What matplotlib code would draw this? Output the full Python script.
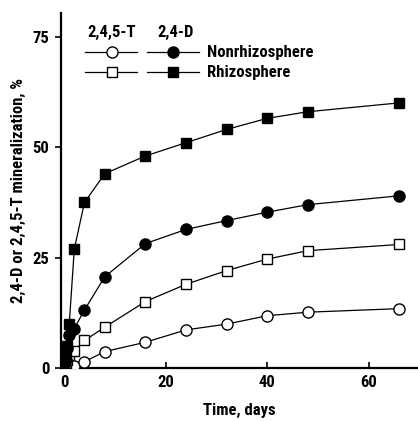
import matplotlib
matplotlib.use("Agg")
import matplotlib.pyplot as plt
from matplotlib.lines import Line2D

days = [0, 0.3, 0.6, 1, 2, 4, 8, 16, 24, 32, 40, 48, 66]
d24_rhizo = [0, 2.5, 5, 10, 27, 37.5, 44, 48, 51, 54, 56.5, 58, 60]
d24_nonrhizo = [0, 2, 4.5, 7.5, 9, 13.2, 20.7, 28.2, 31.4, 33.4, 35.3, 37, 39]
t245_rhizo = [0, 1, 2, 3, 4, 6.3, 9.3, 15.1, 19, 22.1, 24.7, 26.6, 28]
t245_nonrhizo = [0.2, 0.3, 0.4, 0.5, 0.6, 1.5, 3.8, 5.9, 8.7, 10, 11.9, 12.7, 13.5]

xticks = [0, 20, 40, 60]
yticks = [0, 25, 50, 75]

FONT = ["Roboto Condensed", "DejaVu Sans"]
plt.rcParams['font.family'] = FONT
plt.rcParams['font.weight'] = 'bold'
FS = 12

fig = plt.figure(figsize=(4.18, 4.21), dpi=100)
ax = fig.add_axes([0.145, 0.125, 0.855, 0.844])

lw = 0.9
ms_c = 8
ms_s = 7
ax.plot(days, t245_nonrhizo, '-o', color='black', lw=lw, ms=ms_c, mfc='white', mec='black', mew=1, zorder=3)
ax.plot(days, t245_rhizo, '-s', color='black', lw=lw, ms=ms_s, mfc='white', mec='black', mew=1, zorder=3)
ax.plot(days, d24_nonrhizo, '-o', color='black', lw=lw, ms=ms_c, mfc='black', mec='black', mew=1, zorder=4)
ax.plot(days, d24_rhizo, '-s', color='black', lw=lw, ms=ms_s, mfc='black', mec='black', mew=1, zorder=4)

ax.set_xlim(-0.7, 69.7)
ax.set_ylim(0, 80.3)
ax.set_xticks(xticks)
ax.set_yticks(yticks)
for s in ['top', 'right']:
    ax.spines[s].set_visible(False)
for s in ['left', 'bottom']:
    ax.spines[s].set_linewidth(1.6)
ax.tick_params(axis='y', direction='out', length=4, width=1.2, labelsize=FS, pad=4)
ax.tick_params(axis='x', direction='in', length=4, width=1.2, labelsize=FS, pad=5)
ax.set_xlabel('Time, days', fontsize=FS, fontweight='bold', labelpad=9)
ax.set_ylabel('2,4-D or 2,4,5-T mineralization, %', fontsize=FS, fontweight='bold', labelpad=5)

def axf(px, py):
    x0, y0 = 60.7, 368.5
    w, h = 357.3, 355.5
    return (px - x0) / w, (y0 - py) / h

tr = ax.transAxes
for (cx, txt) in [(112, '2,4,5-T'), (176, '2,4-D')]:
    x, y = axf(cx, 32)
    ax.text(x, y, txt, transform=tr, ha='center', va='center', fontsize=FS, fontweight='bold')

rows = [(52, 'o', ms_c, 'Nonrhizosphere'), (72, 's', ms_s, 'Rhizosphere')]
for (py, mk, ms, label) in rows:
    for (xa, xb, xm, fc) in [(85, 137, 112, 'white'), (147, 199, 173, 'black')]:
        xa_, y_ = axf(xa, py)
        xb_, _ = axf(xb, py)
        xm_, _ = axf(xm, py)
        ax.add_line(Line2D([xa_, xb_], [y_, y_], transform=tr, color='black', lw=lw, clip_on=False))
        ax.add_line(Line2D([xm_], [y_], transform=tr, marker=mk, ms=ms, mfc=fc, mec='black', mew=1, clip_on=False))
    xt, yt = axf(207, py)
    ax.text(xt, yt, label, transform=tr, ha='left', va='center', fontsize=FS, fontweight='bold')

fig.savefig('out.png', dpi=100)
